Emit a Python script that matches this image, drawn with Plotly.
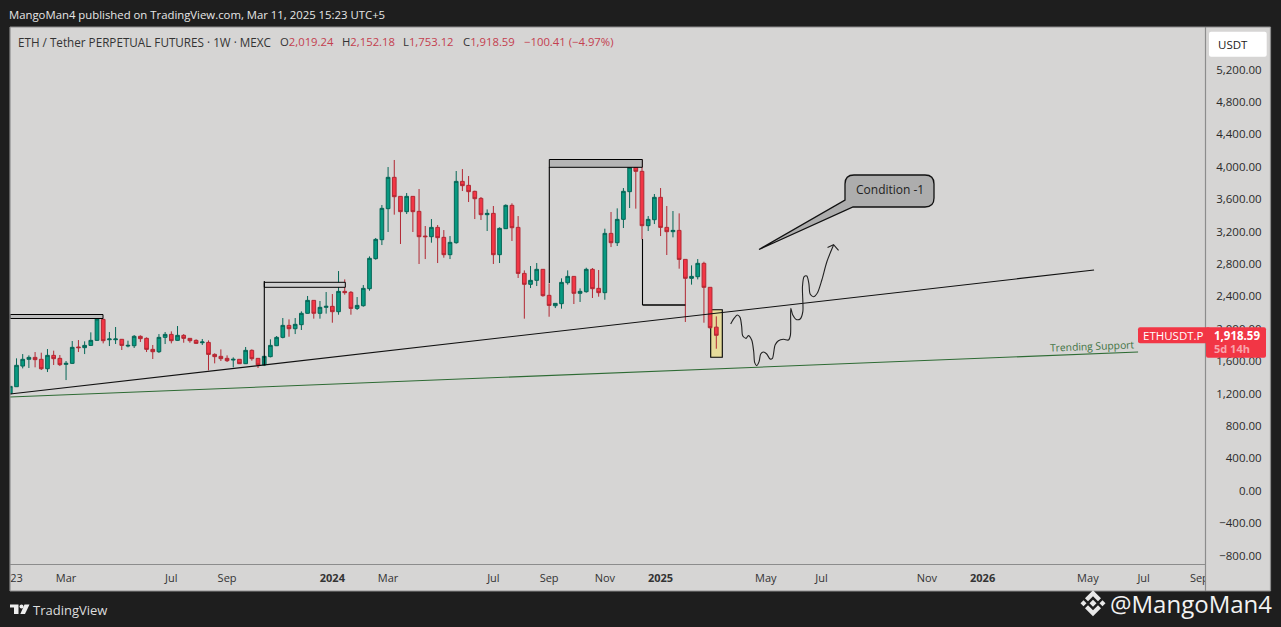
import plotly.graph_objects as go

# Weekly ETH/USDT candles
open_ = [1198,1284,1539,1622,1646,1622,1506,1671,1634,1560,1572,1774,1766,1794,1856,2115,1864,1864,1869,1786,1790,1906,1881,1745,1716,1893,1930,1856,1918,1881,1856,1827,1831,1683,1659,1634,1613,1622,1568,1733,1634,1552,1655,1790,1893,2041,2000,
         2050,2190,2350,2190,2264,2276,2210,2461,2449,2251,2284,2494,2865,3099,3482,3869,3634,3445,3634,3449,3144,3136,3251,3128,2914,3062,3819,3770,3696,3609,3408,3424,2914,3235,
         3523,3251,2683,2548,2597,2733,2412,2284,2309,2568,2646,2437,2457,2733,2498,2445,3177,3062,3350,3692,3992,3943,3272,3346,3622,3251,3198,3214,2856,2622,2642,2807,2511,2019.24]
high = [1288,1634,1687,1671,1712,1704,1749,1729,1675,1601,1848,1860,1844,1955,2144,2124,1959,2021,1873,1852,1922,1918,1893,1799,1934,1959,1967,2033,1934,1881,1869,1873,1856,1696,1745,1671,1646,1622,1774,1745,1634,1659,1869,1910,2132,2115,2132,
        2214,2404,2350,2342,2453,2428,2712,2609,2465,2391,2539,2893,3120,3527,3996,4083,3634,3675,3634,3725,3268,3354,3280,3218,3144,3947,3971,3885,3704,3626,3473,3515,3251,3535,
        3548,3391,2720,2774,2811,2733,2560,2317,2622,2720,2650,2498,2753,2749,2725,3235,3441,3486,3737,4091,3992,4091,3391,3663,3737,3515,3453,3424,2856,2782,2860,2827,2511,2152.18]
low = [1198,1284,1510,1515,1523,1490,1465,1552,1539,1366,1564,1712,1687,1786,1852,1819,1786,1811,1737,1770,1762,1836,1712,1626,1700,1811,1819,1848,1827,1827,1811,1799,1486,1572,1601,1589,1523,1564,1564,1605,1515,1539,1646,1786,1881,1901,1934,
       1984,2186,2124,2124,2186,2074,2173,2420,2173,2231,2272,2469,2852,3033,3194,3408,3046,3416,3194,2799,2860,3062,2811,2877,2860,3050,3700,3564,3354,3342,3206,2799,2811,3231,
       3083,2626,2124,2502,2527,2395,2148,2255,2247,2544,2305,2330,2445,2379,2395,2358,3008,3021,3243,3490,3482,3103,3206,3292,3144,2910,3128,2741,2083,2544,2609,2074,2000,1753.12]
close = [1288,1548,1622,1646,1618,1506,1671,1630,1556,1572,1770,1766,1794,1856,2120,1852,1873,1873,1794,1794,1906,1877,1745,1716,1893,1930,1852,1918,1881,1852,1819,1836,1683,1655,1630,1605,1622,1568,1733,1630,1552,1659,1794,1893,2041,2000,2054,
         2190,2350,2190,2264,2276,2210,2461,2445,2251,2288,2498,2869,3103,3486,3869,3630,3445,3634,3445,3136,3136,3251,3124,2914,3066,3819,3766,3692,3605,3408,3424,2914,3239,3523,
         3247,2683,2548,2597,2733,2408,2288,2313,2572,2646,2437,2461,2733,2494,2445,3177,3062,3350,3696,3992,3943,3272,3350,3622,3251,3198,3214,2856,2622,2646,2807,2511,2013,1918.59]
week = list(range(len(close)))

# Price and time axes
price_ticks = [5200,4800,4400,4000,3600,3200,2800,2400,2000,1600,1200,800,400,0,-400,-800]
price_text = ["5,200.00","4,800.00","4,400.00","4,000.00","3,600.00","3,200.00","2,800.00","2,400.00","2,000.00","1,600.00","1,200.00","800.00","400.00","0.00","\u2212400.00","\u2212800.00"]
time_ticks = [1.0,9.0,26.0,35.0,52.0,61.0,78.0,87.0,96.0,105.0,122.0,131.0,148.0,157.0,174.0,183.0,192.0]
time_text = ["23","Mar","Jul","Sep","<b>2024</b>","Mar","Jul","Sep","Nov","<b>2025</b>","May","Jul","Nov","<b>2026</b>","May","Jul","Sep"]

# Drawn trend lines and the hand-sketched projection
support_x = [-0.05,175.0]
support_y = [1194,2725]
trend_x = [-0.05,182.1]
trend_y = [1157,1712]
sketch_x = [116.32,116.86,117.40,117.83,118.10,118.26,118.80,119.17,119.71,120.04,120.20,120.52,120.90,121.17,121.60,122.14,122.68,123.06,123.49,124.03,124.84,125.65,125.97,126.03,126.35,126.89,127.54,127.97,127.91,128.18,128.61,128.94,129.15,129.69,130.34,131.04,131.85,132.93]
sketch_y = [2058,2128,2169,2140,2025,1914,1881,1914,1860,1716,1581,1544,1593,1688,1712,1688,1626,1634,1799,1852,1869,1860,1922,2251,2169,2115,2120,2210,2519,2642,2650,2560,2428,2395,2445,2601,2827,3033]
head_x = [131.96,132.93,133.74]
head_y = [3004,3037,2967]

W, H = 1281, 627
L, R, T, B = 10, 1269, 27, 564
BG = "#d6d5d4"
DARK = "#1e1e1e"
FONT = "Open Sans"


def px(x):
    return (x - L) / (R - L)


def py(y):
    return (B - y) / (B - T)


def path(points):
    return "M " + " L ".join(f"{px(a):.5f},{py(b):.5f}" for a, b in points) + " Z"


def rect(x0, y0, x1, y1, fill, line=None, width=1, layer="above"):
    return dict(type="rect", xref="paper", yref="paper", x0=px(x0), x1=px(x1), y0=py(y0), y1=py(y1),
                fillcolor=fill, line=dict(color=line or "rgba(0,0,0,0)", width=width if line else 0), layer=layer)


def seg(x0, y0, x1, y1, color="#000000", width=1.1):
    return dict(type="line", xref="paper", yref="paper", x0=px(x0), x1=px(x1), y0=py(y0), y1=py(y1),
                line=dict(color=color, width=width), layer="above")


def text(x, y, s, size=12, color="#222222", anchor="left", angle=0, family=FONT):
    return dict(xref="paper", yref="paper", x=px(x), y=py(y), text=s, showarrow=False, xanchor=anchor, yanchor="middle",
                font=dict(size=size, color=color, family=family), textangle=angle, borderpad=0, borderwidth=0)


fig = go.Figure()
fig.add_trace(go.Candlestick(
    x=week, open=open_, high=high, low=low, close=close, whiskerwidth=0,
    increasing=dict(line=dict(color="#056656", width=1), fillcolor="#089981"),
    decreasing=dict(line=dict(color="#b22833", width=1), fillcolor="#f23645"),
    hoverinfo="skip", showlegend=False))
fig.add_trace(go.Scatter(x=support_x, y=support_y, mode="lines", line=dict(color="#111111", width=1.1), hoverinfo="skip", showlegend=False))
fig.add_trace(go.Scatter(x=trend_x, y=trend_y, mode="lines", line=dict(color="#2e6b34", width=1.1), hoverinfo="skip", showlegend=False))
fig.add_trace(go.Scatter(x=sketch_x, y=sketch_y, mode="lines", line=dict(color="#222222", width=1.1, shape="spline", smoothing=0.8), hoverinfo="skip", showlegend=False))
fig.add_trace(go.Scatter(x=head_x, y=head_y, mode="lines", line=dict(color="#222222", width=1.1), hoverinfo="skip", showlegend=False))

callout = (f"M {px(854):.5f},{py(175):.5f} L {px(925):.5f},{py(175):.5f} Q {px(934):.5f},{py(175):.5f} {px(934):.5f},{py(184):.5f} "
           f"L {px(934):.5f},{py(198):.5f} Q {px(934):.5f},{py(207):.5f} {px(925):.5f},{py(207):.5f} L {px(853):.5f},{py(207):.5f} "
           f"L {px(759):.5f},{py(249.5):.5f} L {px(845):.5f},{py(200):.5f} L {px(845):.5f},{py(184):.5f} "
           f"Q {px(845):.5f},{py(175):.5f} {px(854):.5f},{py(175):.5f} Z")


def rounded(x0, y0, x1, y1, r, fill):
    d = (f"M {px(x0+r):.5f},{py(y0):.5f} L {px(x1-r):.5f},{py(y0):.5f} Q {px(x1):.5f},{py(y0):.5f} {px(x1):.5f},{py(y0+r):.5f} "
         f"L {px(x1):.5f},{py(y1-r):.5f} Q {px(x1):.5f},{py(y1):.5f} {px(x1-r):.5f},{py(y1):.5f} L {px(x0+r):.5f},{py(y1):.5f} "
         f"Q {px(x0):.5f},{py(y1):.5f} {px(x0):.5f},{py(y1-r):.5f} L {px(x0):.5f},{py(y0+r):.5f} Q {px(x0):.5f},{py(y0):.5f} {px(x0+r):.5f},{py(y0):.5f} Z")
    return dict(type="path", xref="paper", yref="paper", path=d, fillcolor=fill, line=dict(width=0), layer="above")


# Binance mark
cx, cy = 1093, 603.3
binance = [
    [(cx-3.5, cy), (cx, cy-3.5), (cx+3.5, cy), (cx, cy+3.5)],
    [(cx-12.5, cy), (cx-9.5, cy-3), (cx-6.5, cy), (cx-9.5, cy+3)],
    [(cx+12.5, cy), (cx+9.5, cy-3), (cx+6.5, cy), (cx+9.5, cy+3)],
    [(cx, cy-13), (cx+8, cy-5), (cx+5, cy-2), (cx, cy-7), (cx-5, cy-2), (cx-8, cy-5)],
    [(cx, cy+13), (cx+8, cy+5), (cx+5, cy+2), (cx, cy+7), (cx-5, cy+2), (cx-8, cy+5)],
]
shapes = [
    rect(10, 27, 1270.5, 591, BG, layer="below"),
    rect(710.7, 309.7, 722.3, 357.3, "#e6dc9b", "#000000", 1.1, layer="below"),
    rect(10, 314.5, 103, 318.5, "#bdbdbd", "#000000", 1.0),
    rect(264.3, 282.3, 345.3, 287.3, "#cfcfcf", "#000000", 1.0),
    rect(549.3, 159.5, 642.3, 167.3, "#b5b5b5", "#000000", 1.0),
    seg(264.3, 281, 264.3, 365),
    seg(549.3, 167, 549.3, 283),
    seg(642.5, 239, 642.5, 305),
    seg(642.5, 305, 685.3, 305, width=1.7),
    dict(type="path", xref="paper", yref="paper", path=callout, fillcolor="#adadad", line=dict(color="#111111", width=1.3), layer="above"),
    rect(1205.5, 564.5, 1270.5, 591, BG),
    seg(10, 27, 1270.5, 27, "#8c8c8c", 1.2),
    seg(10, 27, 10, 591, "#8c8c8c", 1.2),
    seg(10, 591, 1270.5, 591, "#8c8c8c", 1.2),
    seg(1270.5, 27, 1270.5, 591, "#8c8c8c", 1.2),
    seg(1205.5, 27, 1205.5, 591, "#8c8c8c", 1.2),
    seg(10, 564.5, 1205.5, 564.5, "#8c8c8c", 1.2),
    rounded(1209, 31.7, 1266.7, 56.7, 2, "#ffffff"),
    rounded(1138, 327.3, 1210, 343.3, 2, "#f23645"),
    rounded(1206, 327.3, 1266, 357.7, 2, "#f23645"),
    dict(type="path", xref="paper", yref="paper", path=path([(10, 604.5), (18.5, 604.5), (18.5, 614), (14, 614), (14, 607.5), (10, 607.5)]), fillcolor="#eeeeee", line=dict(width=0), layer="above"),
    dict(type="circle", xref="paper", yref="paper", x0=px(19.5), x1=px(23.5), y0=py(604.5), y1=py(608.5), fillcolor="#eeeeee", line=dict(width=0), layer="above"),
    dict(type="path", xref="paper", yref="paper", path=path([(24.5, 604.5), (29.5, 604.5), (25, 614), (20.3, 614)]), fillcolor="#eeeeee", line=dict(width=0), layer="above"),
] + [dict(type="path", xref="paper", yref="paper", path=path(p), fillcolor="#e8e8e8", line=dict(width=0), layer="above") for p in binance]

RED = "#c4404f"
INK = "#333333"
annotations = [
    text(9, 14, "MangoMan4 published on TradingView.com, Mar 11, 2025 15:23 UTC+5", 11.35, "#e6e6e6"),
    text(18, 41.5, "ETH / Tether PERPETUAL FUTURES \u00b7 1W \u00b7 MEXC", 11.7, INK),
    text(279.5, 41.5, f"O<span style='color:{RED}'>2,019.24</span>", 11.3, INK),
    text(342, 41.5, f"H<span style='color:{RED}'>2,152.18</span>", 11.3, INK),
    text(403, 41.5, f"L<span style='color:{RED}'>1,753.12</span>", 11.3, INK),
    text(463, 41.5, f"C<span style='color:{RED}'>1,918.59</span>", 11.3, INK),
    text(524, 41.5, "\u2212100.41 (\u22124.97%)", 11.3, RED),
    text(1218, 44.5, "USDT", 11.5, "#222222"),
    text(1143, 335.5, "ETHUSDT.P", 11.5, "#ffffff"),
    text(1214, 335.5, "<b>1,918.59</b>", 11.5, "#ffffff"),
    text(1214, 349, "<b>5d 14h</b>", 11, "#f9a3ac"),
    text(889.5, 190, "Condition -1", 12, "#222222", anchor="center"),
    text(1092, 346, "Trending Support", 10.3, "#3f7343", anchor="center", angle=-2.2),
    text(33, 609.5, "TradingView", 13, "#dddddd"),
    text(1110, 603.5, "@MangoMan4", 24, "#f2f2f2"),
]

fig.update_layout(
    width=W, height=H, margin=dict(l=L, r=W - R, t=T, b=H - B, autoexpand=False),
    paper_bgcolor=DARK, plot_bgcolor=BG, boxgap=0.15, showlegend=False, hovermode=False,
    font=dict(family=FONT, size=11.5, color="#222222"),
    shapes=shapes, annotations=annotations,
    xaxis=dict(domain=[0, (1205.5 - L) / (R - L)], range=[-0.05, 192.99], rangeslider=dict(visible=False),
               tickmode="array", tickvals=time_ticks, ticktext=time_text, showgrid=False, zeroline=False,
               ticks="outside", ticklen=4, tickcolor="rgba(0,0,0,0)", showline=False, automargin=False,
               tickfont=dict(size=11, color="#333333", family=FONT), tickangle=0, fixedrange=True),
    yaxis=dict(anchor="free", position=1, side="left", range=[-905, 5725], tickmode="array", tickvals=price_ticks,
               ticktext=price_text, showgrid=False, zeroline=False, ticks="outside", ticklen=5,
               tickcolor="rgba(0,0,0,0)", showline=False, automargin=False,
               tickfont=dict(size=11.5, color="#2a2a2a", family=FONT), fixedrange=True),
)

fig.write_html("out.html", config=dict(displayModeBar=False),
               post_script="document.body.style.margin='0';document.body.style.overflow='hidden';")
